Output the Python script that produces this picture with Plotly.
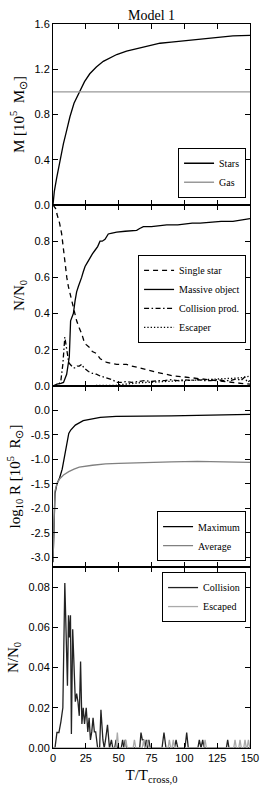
import plotly.graph_objects as go
from plotly.subplots import make_subplots

# ---------------- data ----------------
# Panel 1: mass
stars_t = [0, 1, 2.8, 5, 7.9, 10, 12.9, 16, 20, 24, 28, 33, 38.3, 43, 48.5, 56, 63.7, 72, 81.5, 90, 99, 112, 124.7, 137, 150]
stars_m = [0.0, 0.12, 0.24, 0.38, 0.54, 0.64, 0.78, 0.90, 1.0, 1.09, 1.16, 1.22, 1.27, 1.30, 1.33, 1.36, 1.38, 1.40, 1.43, 1.44, 1.45, 1.47, 1.485, 1.495, 1.50]
gas_t = [0, 150]
gas_m = [1.0, 1.0]

# Panel 2: number fractions
single_t = [0, 2, 3, 5, 6.6, 8, 9.1, 10.5, 11.7, 13, 14.2, 16, 18, 20, 21.8, 23.5, 25.1, 28.2, 30, 33, 36, 41, 45, 48.5, 56, 60, 66, 71, 79, 86, 91.6, 100, 106, 112, 118, 125, 131, 137, 143, 150]
single_n = [1.0, 0.98, 0.95, 0.90, 0.84, 0.75, 0.66, 0.60, 0.55, 0.51, 0.47, 0.41, 0.36, 0.32, 0.29, 0.25, 0.23, 0.21, 0.19, 0.18, 0.15, 0.13, 0.125, 0.12, 0.12, 0.11, 0.10, 0.09, 0.075, 0.065, 0.056, 0.05, 0.045, 0.037, 0.035, 0.03, 0.025, 0.018, 0.015, 0.01]
massive_t = [0, 3, 6, 8, 10.4, 11.5, 12.4, 13.4, 14.5, 15.5, 16.8, 18, 19.3, 20.5, 21.8, 23, 24.4, 26, 28.2, 30, 32, 34, 35.8, 37.5, 39.6, 41, 42.1, 45, 48.5, 55, 60, 63.7, 66, 68.8, 75, 80, 86.6, 95, 100, 106, 112, 120, 128, 137, 143, 150]
massive_n = [0, 0.01, 0.015, 0.02, 0.065, 0.11, 0.16, 0.36, 0.38, 0.40, 0.47, 0.52, 0.55, 0.57, 0.60, 0.63, 0.66, 0.68, 0.71, 0.73, 0.75, 0.77, 0.80, 0.80, 0.81, 0.83, 0.84, 0.845, 0.85, 0.855, 0.86, 0.86, 0.87, 0.88, 0.88, 0.885, 0.89, 0.89, 0.895, 0.90, 0.90, 0.905, 0.91, 0.91, 0.915, 0.925]
collprod_t = [0, 4, 6, 7.5, 9, 10, 11, 12, 13, 14, 15.5, 17, 18.5, 20, 22, 23.5, 25, 27, 30, 33, 36, 41, 45, 48.5, 52, 56, 60, 65, 70, 75, 80, 85, 90, 95, 100, 105, 110, 115, 120, 125, 130, 135, 140, 143, 146, 148, 150]
collprod_n = [0, 0.0, 0.03, 0.12, 0.27, 0.23, 0.17, 0.13, 0.12, 0.11, 0.10, 0.10, 0.11, 0.11, 0.12, 0.10, 0.09, 0.08, 0.07, 0.065, 0.055, 0.046, 0.035, 0.02, 0.02, 0.025, 0.02, 0.025, 0.03, 0.025, 0.03, 0.03, 0.035, 0.03, 0.035, 0.03, 0.035, 0.03, 0.03, 0.035, 0.03, 0.03, 0.04, 0.03, 0.05, 0.02, 0.03]
escaper_t = [0, 45, 48, 52, 56, 60, 66, 72, 80, 88, 95, 103, 110, 118, 125, 132, 138, 143, 147, 150]
escaper_n = [0, 0, 0.004, 0.008, 0.012, 0.015, 0.018, 0.02, 0.023, 0.026, 0.028, 0.03, 0.032, 0.034, 0.036, 0.04, 0.042, 0.045, 0.05, 0.055]

# Panel 3: radii
rmax_t = [0, 0.5, 1, 1.5, 3, 5, 7, 8, 9, 10, 11, 12, 13.5, 17, 23, 30, 36, 48, 60, 74, 90, 110, 130, 150]
rmax = [-3.1, -2.6, -2.0, -1.7, -1.5, -1.38, -1.2, -1.05, -0.95, -0.80, -0.62, -0.47, -0.40, -0.30, -0.21, -0.17, -0.14, -0.12, -0.12, -0.11, -0.11, -0.10, -0.09, -0.08]
ravg_t = [0, 0.5, 1, 1.5, 3, 5, 8, 12, 16, 20, 30, 40, 50, 70, 90, 110, 130, 150]
ravg = [-3.1, -2.5, -1.9, -1.65, -1.5, -1.40, -1.32, -1.25, -1.20, -1.16, -1.12, -1.09, -1.08, -1.06, -1.05, -1.04, -1.05, -1.06]

# Panel 4: rates
coll_t = [0, 1.5, 3, 4.5, 6, 7.5, 9, 10, 11, 11.8, 12.5, 13.3, 14, 15, 16, 17, 18, 19, 20, 21, 22, 23, 24, 25.3, 26.5, 27.5, 28.5, 29.5, 30.5, 31.5, 32.5, 34, 35.5, 36.5, 38, 39, 40, 41.5, 43, 44.5, 45.5, 47, 48, 49, 52, 53, 54, 55, 56, 57, 66, 67, 68, 69, 70, 71, 72, 73, 74, 83, 84.5, 86, 92.5, 93.7, 95, 100.5, 101.8, 103, 110.3, 111.4, 112.7, 114, 115, 132, 133, 134, 150]
coll_n = [0, 0, 0.0077, 0.0077, 0.013, 0.02, 0.082, 0.05, 0.031, 0.066, 0.055, 0.066, 0.007, 0.059, 0.035, 0.023, 0.027, 0.023, 0.016, 0.043, 0.012, 0.02, 0.012, 0.02, 0.008, 0.015, 0.004, 0.008, 0.015, 0.008, 0.008, 0.0, 0.0, 0.019, 0.004, 0.0, 0.004, 0.0115, 0.0, 0.004, 0.0, 0.0, 0.004, 0.0, 0.0, 0.004, 0.0, 0.004, 0.0, 0.0, 0.0, 0.0077, 0.004, 0.004, 0.0, 0.004, 0.0, 0.004, 0.0, 0.0, 0.0077, 0.0, 0.0, 0.004, 0.0, 0.0, 0.0077, 0.0, 0.0, 0.004, 0.0, 0.004, 0.0, 0.0, 0.004, 0.0, 0.0]
esc_t = [0, 48, 49, 50, 54.5, 55.5, 56.5, 61, 62, 63, 68, 69, 70, 71, 72, 73, 87.6, 88.6, 89.6, 90.6, 91.6, 92.6, 114.8, 115.8, 116.8, 137.6, 138.6, 139.6, 141.4, 142.4, 143.4, 145.2, 146.2, 147.2, 147.8, 148.8, 149.8, 150]
esc_n = [0, 0, 0.0077, 0, 0, 0.004, 0, 0, 0.004, 0, 0, 0.004, 0, 0, 0.004, 0, 0, 0.004, 0, 0, 0.004, 0, 0, 0.004, 0, 0, 0.004, 0, 0, 0.004, 0, 0, 0.004, 0, 0, 0.004, 0, 0]

x_ticks = [0, 25, 50, 75, 100, 125, 150]

# ---------------- figure ----------------
SERIF = "Liberation Serif"
SANS = "Liberation Sans"

fig = make_subplots(rows=4, cols=1, shared_xaxes=True, vertical_spacing=0)

def add(row, x, y, name, color, dash="solid", legend="legend", width=1.3):
    fig.add_trace(go.Scatter(x=x, y=y, mode="lines", name=name,
                             line=dict(color=color, dash=dash, width=width),
                             legend=legend), row=row, col=1)

add(1, stars_t, stars_m, "Stars", "black", legend="legend")
add(1, gas_t, gas_m, "Gas", "#999999", legend="legend")
add(2, single_t, single_n, "Single star", "black", dash="5px,4px", legend="legend2")
add(2, massive_t, massive_n, "Massive object", "black", legend="legend2")
add(2, collprod_t, collprod_n, "Collision prod.", "black", dash="5px,2.5px,1.5px,2.5px", legend="legend2")
add(2, escaper_t, escaper_n, "Escaper", "black", dash="1.3px,2px", legend="legend2")
add(3, rmax_t, rmax, "Maximum", "black", legend="legend3")
add(3, ravg_t, ravg, "Average", "#808080", legend="legend3")
add(4, coll_t, coll_n, "Collision", "#222222", legend="legend4")
add(4, esc_t, esc_n, "Escaped", "#aaaaaa", legend="legend4")

axis_common = dict(showline=True, linecolor="black", linewidth=1, mirror="allticks",
                   ticks="inside", ticklen=5, tickcolor="black", tickwidth=1,
                   showgrid=False, zeroline=False, automargin=False,
                   tickfont=dict(family=SANS, size=11, color="black"))

for r in range(1, 5):
    fig.update_xaxes(range=[0, 150], tickvals=x_ticks, row=r, col=1, **axis_common)

fig.update_xaxes(title=dict(text="T/T<sub>cross,0</sub>", font=dict(family=SERIF, size=15, color="black"), standoff=6),
                 row=4, col=1)

yt_font = dict(family=SERIF, size=15, color="black")
fig.update_yaxes(range=[0, 1.6], tickvals=[0, 0.4, 0.8, 1.2, 1.6], ticktext=["0.0", "0.4", "0.8", "1.2", "1.6"],
                 title=dict(text="M [10<sup>5</sup>  M<sub>⊙</sub>]", font=yt_font, standoff=6), row=1, col=1, **axis_common)
fig.update_yaxes(range=[0, 1.0], tickvals=[0, 0.2, 0.4, 0.6, 0.8], ticktext=["0.0", "0.2", "0.4", "0.6", "0.8"],
                 title=dict(text="N/N<sub>0</sub>", font=yt_font, standoff=6), row=2, col=1, **axis_common)
fig.update_yaxes(range=[-3.2, 0.5], tickvals=[-3.0, -2.5, -2.0, -1.5, -1.0, -0.5, 0.0],
                 ticktext=["-3.0", "-2.5", "-2.0", "-1.5", "-1.0", "-0.5", "0.0"],
                 title=dict(text="log<sub>10</sub> R [10<sup>5</sup>  R<sub>⊙</sub>]", font=yt_font, standoff=6), row=3, col=1, **axis_common)
fig.update_yaxes(range=[0, 0.09], tickvals=[0, 0.02, 0.04, 0.06, 0.08], ticktext=["0.00", "0.02", "0.04", "0.06", "0.08"],
                 title=dict(text="N/N<sub>0</sub>", font=yt_font, standoff=6), row=4, col=1, **axis_common)

leg_common = dict(bgcolor="white", bordercolor="black", borderwidth=1,
                  font=dict(family=SERIF, size=10, color="black"),
                  xref="paper", yref="paper", xanchor="right", itemwidth=30, tracegroupgap=0)

fig.update_layout(
    width=266, height=797,
    margin=dict(l=53, r=16, t=24, b=49, autoexpand=False),
    paper_bgcolor="white", plot_bgcolor="white",
    title=dict(text="Model 1", font=dict(family=SERIF, size=14, color="black"),
               x=0.5, xref="paper", xanchor="center", y=1 - 15 / 797, yanchor="middle", yref="container"),
    legend=dict(x=0.98, y=0.760, yanchor="bottom", **leg_common),
    legend2=dict(x=0.98, y=0.681, yanchor="top", **leg_common),
    legend3=dict(x=0.98, y=0.258, yanchor="bottom", **leg_common),
    legend4=dict(x=0.98, y=0.243, yanchor="top", **leg_common),
)

fig.write_html("out.html", config={"displayModeBar": False},
               post_script="document.body.style.margin='0';document.body.style.padding='0';document.body.style.overflow='hidden';")
